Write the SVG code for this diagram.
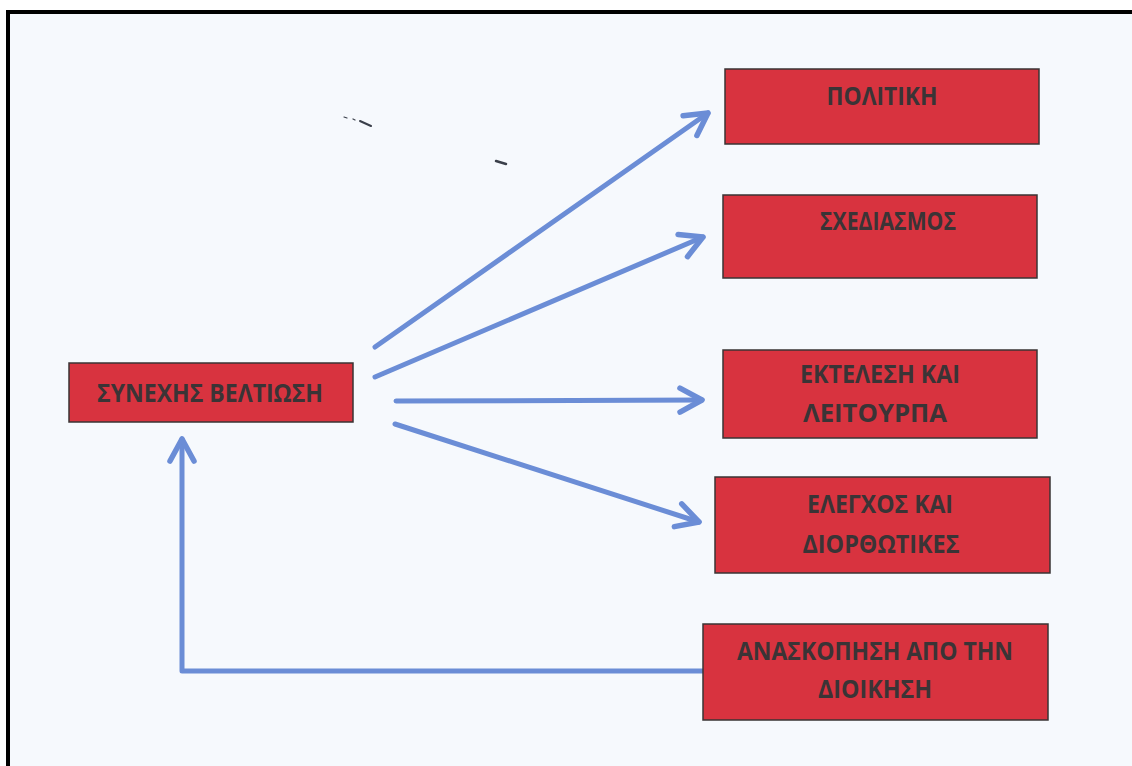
<svg xmlns="http://www.w3.org/2000/svg" width="1132" height="766" viewBox="0 0 1132 766">
<style>
.box{fill:#d8333f;stroke:#3a3434;stroke-width:1.5}
.lbl{font-family:"Open Sans","Noto Sans","DejaVu Sans",sans-serif;font-weight:bold;font-size:25px;fill:#3a3436;text-anchor:middle}
.conn{fill:none;stroke:#6b8dd6;stroke-width:5;stroke-linecap:round;stroke-linejoin:round}
</style>
<defs>
<marker id="chev" markerUnits="userSpaceOnUse" viewBox="-30 -16 36 32" refX="0" refY="0" markerWidth="36" markerHeight="32" orient="auto">
<path d="M-22,-12 L0,0 L-22,12" fill="none" stroke="#6b8dd6" stroke-width="5.5" stroke-linecap="round" stroke-linejoin="round"/>
</marker>
</defs>
<rect x="0" y="0" width="1132" height="766" fill="#f6f9fd"/>
<rect x="0" y="0" width="1132" height="10" fill="#ffffff"/>
<rect x="0" y="0" width="6" height="766" fill="#ffffff"/>
<rect x="6" y="10" width="1126" height="4" fill="#000"/>
<rect x="6" y="10" width="4" height="756" fill="#000"/>
<g id="specks" stroke="#3a3f4a" stroke-linecap="round" fill="none">
<path d="M344,117 L347,118" stroke-width="1.2"/>
<path d="M353,119 L355,120" stroke-width="1.2"/>
<path d="M360,121 L371,126" stroke-width="2"/>
<path d="M496,161 L506,164" stroke-width="2.5"/>
</g>
<g id="connectors">
<path class="conn" d="M375,347 L708,113" marker-end="url(#chev)"/>
<path class="conn" d="M375,377 L703,237" marker-end="url(#chev)"/>
<path class="conn" d="M396,401 L702,400" marker-end="url(#chev)"/>
<path class="conn" d="M395,424 L699,522" marker-end="url(#chev)"/>
<path class="conn" d="M703,671 L182,671 L182,439" marker-end="url(#chev)"/>
</g>
<g id="n-politiki">
<rect class="box" x="725" y="69" width="314" height="75"/>
<text class="lbl" x="882" y="105" textLength="111" lengthAdjust="spacingAndGlyphs">ΠΟΛΙΤΙΚΗ</text>
</g>
<g id="n-schediasmos">
<rect class="box" x="723" y="195" width="314" height="83"/>
<text class="lbl" x="888" y="230" textLength="136" lengthAdjust="spacingAndGlyphs">ΣΧΕΔΙΑΣΜΟΣ</text>
</g>
<g id="n-synechis">
<rect class="box" x="69" y="363" width="284" height="59"/>
<text class="lbl" x="210" y="402" textLength="226" lengthAdjust="spacingAndGlyphs">ΣΥΝΕΧΗΣ ΒΕΛΤΙΩΣΗ</text>
</g>
<g id="n-ektelesi">
<rect class="box" x="723" y="350" width="314" height="88"/>
<text class="lbl" x="880" y="383" textLength="160" lengthAdjust="spacingAndGlyphs">ΕΚΤΕΛΕΣΗ ΚΑΙ</text>
<text class="lbl" x="875" y="422" textLength="144" lengthAdjust="spacingAndGlyphs">ΛΕΙΤΟΥΡΠΑ</text>
</g>
<g id="n-elegchos">
<rect class="box" x="715" y="477" width="335" height="96"/>
<text class="lbl" x="880" y="513" textLength="146" lengthAdjust="spacingAndGlyphs">ΕΛΕΓΧΟΣ ΚΑΙ</text>
<text class="lbl" x="881" y="553" textLength="157" lengthAdjust="spacingAndGlyphs">ΔΙΟΡΘΩΤΙΚΕΣ</text>
</g>
<g id="n-anaskopisi">
<rect class="box" x="703" y="624" width="345" height="96"/>
<text class="lbl" x="875" y="660" textLength="276" lengthAdjust="spacingAndGlyphs">ΑΝΑΣΚΟΠΗΣΗ ΑΠΟ ΤΗΝ</text>
<text class="lbl" x="875" y="698" textLength="114" lengthAdjust="spacingAndGlyphs">ΔΙΟΙΚΗΣΗ</text>
</g>
</svg>
